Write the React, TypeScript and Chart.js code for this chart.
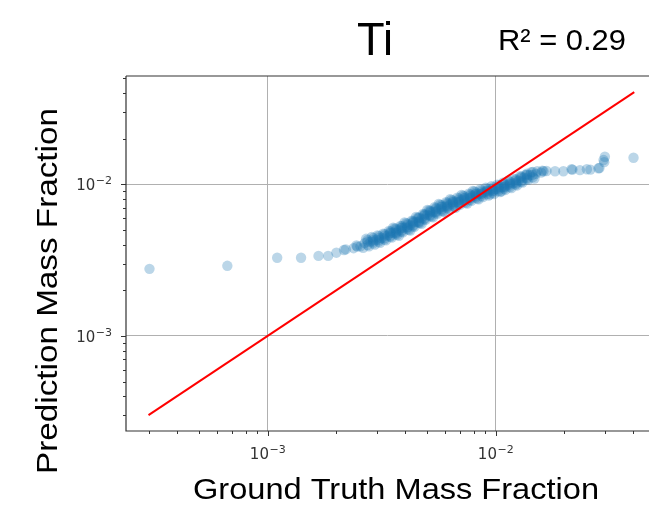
import React, { useEffect, useRef } from 'react';
import { Chart, registerables } from 'chart.js';

Chart.register(...registerables);

// Ground truth (x) and prediction (y) mass fractions
const groundTruth = [
  // sparse low tail
  3.03e-4, 6.65e-4, 1.10e-3, 1.40e-3, 1.67e-3, 1.84e-3, 2.0e-3, 2.16e-3, 2.2e-3, 2.38e-3, 2.45e-3, 2.47e-3, 2.55e-3,
  // dense band, lower edge
  2.62e-3, 2.78e-3, 2.95e-3, 3.11e-3, 3.30e-3, 3.50e-3, 3.70e-3, 3.92e-3, 4.16e-3, 4.40e-3, 4.66e-3, 4.93e-3, 5.23e-3, 5.54e-3, 5.87e-3, 6.22e-3,
  6.58e-3, 6.97e-3, 7.39e-3, 7.82e-3, 8.28e-3, 8.78e-3, 9.30e-3, 9.85e-3, 1.044e-2, 1.103e-2, 1.172e-2, 1.241e-2, 1.31e-2, 1.389e-2, 1.478e-2,
  // dense band, middle
  2.66e-3, 2.82e-3, 2.99e-3, 3.16e-3, 3.35e-3, 3.55e-3, 3.76e-3, 3.98e-3, 4.22e-3, 4.47e-3, 4.73e-3, 5.01e-3, 5.31e-3, 5.62e-3, 5.96e-3, 6.31e-3,
  6.68e-3, 7.08e-3, 7.50e-3, 7.94e-3, 8.41e-3, 8.91e-3, 9.44e-3, 1.0e-2, 1.06e-2, 1.12e-2, 1.19e-2, 1.26e-2, 1.33e-2, 1.41e-2, 1.50e-2, 1.58e-2,
  // dense band, upper edge
  2.70e-3, 2.86e-3, 3.03e-3, 3.21e-3, 3.40e-3, 3.60e-3, 3.82e-3, 4.04e-3, 4.28e-3, 4.54e-3, 4.80e-3, 5.09e-3, 5.39e-3, 5.70e-3, 6.05e-3, 6.40e-3,
  6.78e-3, 7.19e-3, 7.61e-3, 8.06e-3, 8.54e-3, 9.04e-3, 9.58e-3, 1.015e-2, 1.076e-2, 1.137e-2, 1.208e-2, 1.279e-2, 1.35e-2, 1.431e-2, 1.52e-2, 1.60e-2,
  // dense band, in between
  3.45e-3, 3.65e-3, 3.87e-3, 4.10e-3, 4.34e-3, 4.60e-3, 4.87e-3, 5.16e-3, 5.46e-3, 5.79e-3, 6.13e-3, 6.49e-3, 6.88e-3, 7.29e-3, 7.72e-3, 8.17e-3,
  8.66e-3, 9.17e-3, 9.72e-3, 1.03e-2, 1.09e-2, 1.155e-2, 1.225e-2,
  // dense band, centre right of row
  2.90e-3, 3.08e-3, 3.25e-3, 3.45e-3, 3.66e-3, 3.87e-3, 4.10e-3, 4.35e-3, 4.60e-3, 4.87e-3, 5.16e-3, 5.47e-3, 5.79e-3, 6.14e-3, 6.50e-3,
  6.88e-3, 7.29e-3, 7.73e-3, 8.18e-3, 8.66e-3, 9.18e-3, 9.72e-3, 1.03e-2, 1.09e-2, 1.15e-2, 1.23e-2, 1.30e-2, 1.37e-2, 1.45e-2,
  // dense band, centre left of row
  2.74e-3, 2.90e-3, 3.07e-3, 3.25e-3, 3.44e-3, 3.65e-3, 3.86e-3, 4.09e-3, 4.34e-3, 4.59e-3, 4.86e-3, 5.15e-3, 5.45e-3, 5.78e-3, 6.12e-3,
  6.48e-3, 6.87e-3, 7.28e-3, 7.70e-3, 8.16e-3, 8.64e-3, 9.16e-3, 9.70e-3, 1.03e-2, 1.09e-2, 1.15e-2, 1.22e-2, 1.29e-2, 1.37e-2,
  // dense band, half rows high
  2.74e-3, 2.90e-3, 3.07e-3, 3.25e-3, 3.45e-3, 3.65e-3, 3.87e-3, 4.10e-3, 4.34e-3, 4.60e-3, 4.87e-3, 5.16e-3, 5.46e-3, 5.79e-3, 6.13e-3,
  6.49e-3, 6.88e-3, 7.29e-3, 7.72e-3, 8.17e-3, 8.66e-3, 9.17e-3, 9.72e-3, 1.03e-2, 1.09e-2, 1.155e-2, 1.225e-2, 1.295e-2, 1.37e-2, 1.455e-2,
  // dense band, half rows low
  2.74e-3, 2.90e-3, 3.07e-3, 3.25e-3, 3.45e-3, 3.65e-3, 3.87e-3, 4.10e-3, 4.34e-3, 4.60e-3, 4.87e-3, 5.16e-3, 5.46e-3, 5.79e-3, 6.13e-3,
  6.49e-3, 6.88e-3, 7.29e-3, 7.72e-3, 8.17e-3, 8.66e-3, 9.17e-3, 9.72e-3, 1.03e-2, 1.09e-2, 1.155e-2, 1.225e-2, 1.295e-2, 1.37e-2, 1.455e-2,
  // ragged outer edges
  3.55e-3, 3.98e-3, 4.47e-3, 5.01e-3, 5.62e-3, 6.31e-3, 7.08e-3, 7.94e-3,
  3.76e-3, 4.22e-3, 4.73e-3, 5.31e-3, 5.96e-3, 6.68e-3, 7.50e-3, 8.41e-3, 9.44e-3, 1.06e-2,
  // sparse high tail
  1.62e-2, 1.67e-2, 1.82e-2, 1.98e-2, 2.15e-2, 2.17e-2, 2.34e-2, 2.51e-2, 2.6e-2, 2.82e-2, 2.85e-2, 2.97e-2, 2.99e-2, 3.01e-2, 4.02e-2,
];

const prediction = [
  // sparse low tail
  2.77e-3, 2.90e-3, 3.28e-3, 3.28e-3, 3.37e-3, 3.37e-3, 3.54e-3, 3.69e-3, 3.72e-3, 3.79e-3, 3.95e-3, 3.88e-3, 3.9e-3,
  // dense band, lower edge
  3.81e-3, 3.90e-3, 4.00e-3, 4.11e-3, 4.27e-3, 4.45e-3, 4.64e-3, 4.82e-3, 5.01e-3, 5.25e-3, 5.54e-3, 5.84e-3, 6.13e-3, 6.38e-3, 6.63e-3, 6.87e-3,
  7.09e-3, 7.32e-3, 7.55e-3, 7.78e-3, 8.05e-3, 8.25e-3, 8.44e-3, 8.64e-3, 8.90e-3, 9.18e-3, 9.43e-3, 9.83e-3, 1.027e-2, 1.07e-2, 1.091e-2,
  // dense band, middle
  4.09e-3, 4.19e-3, 4.30e-3, 4.42e-3, 4.59e-3, 4.79e-3, 4.98e-3, 5.18e-3, 5.38e-3, 5.64e-3, 5.96e-3, 6.28e-3, 6.59e-3, 6.86e-3, 7.13e-3, 7.38e-3,
  7.62e-3, 7.87e-3, 8.11e-3, 8.37e-3, 8.65e-3, 8.87e-3, 9.08e-3, 9.29e-3, 9.57e-3, 9.86e-3, 1.014e-2, 1.057e-2, 1.104e-2, 1.151e-2, 1.172e-2, 1.194e-2,
  // dense band, upper edge
  4.37e-3, 4.49e-3, 4.60e-3, 4.73e-3, 4.92e-3, 5.12e-3, 5.32e-3, 5.54e-3, 5.75e-3, 6.03e-3, 6.38e-3, 6.72e-3, 7.06e-3, 7.34e-3, 7.63e-3, 7.90e-3,
  8.15e-3, 8.42e-3, 8.67e-3, 8.96e-3, 9.26e-3, 9.49e-3, 9.72e-3, 9.94e-3, 1.024e-2, 1.055e-2, 1.085e-2, 1.132e-2, 1.154e-2, 1.20e-2, 1.22e-2, 1.23e-2,
  // dense band, in between
  4.75e-3, 4.82e-3, 5.15e-3, 5.22e-3, 5.58e-3, 5.72e-3, 6.20e-3, 6.50e-3, 6.62e-3, 7.10e-3, 7.18e-3, 7.62e-3, 7.66e-3, 8.10e-3, 8.15e-3, 8.62e-3,
  8.68e-3, 9.10e-3, 9.05e-3, 9.55e-3, 9.62e-3, 1.01e-2, 1.03e-2,
  // dense band, centre right of row
  4.19e-3, 4.30e-3, 4.42e-3, 4.59e-3, 4.79e-3, 4.98e-3, 5.18e-3, 5.38e-3, 5.64e-3, 5.96e-3, 6.28e-3, 6.59e-3, 6.86e-3, 7.13e-3, 7.38e-3,
  7.62e-3, 7.87e-3, 8.11e-3, 8.37e-3, 8.65e-3, 8.87e-3, 9.08e-3, 9.29e-3, 9.57e-3, 9.86e-3, 1.014e-2, 1.057e-2, 1.104e-2, 1.151e-2,
  // dense band, centre left of row
  4.19e-3, 4.30e-3, 4.42e-3, 4.59e-3, 4.79e-3, 4.98e-3, 5.18e-3, 5.38e-3, 5.64e-3, 5.96e-3, 6.28e-3, 6.59e-3, 6.86e-3, 7.13e-3, 7.38e-3,
  7.62e-3, 7.87e-3, 8.11e-3, 8.37e-3, 8.65e-3, 8.87e-3, 9.08e-3, 9.29e-3, 9.57e-3, 9.86e-3, 1.014e-2, 1.057e-2, 1.104e-2, 1.151e-2,
  // dense band, half rows high
  4.30e-3, 4.42e-3, 4.54e-3, 4.69e-3, 4.88e-3, 5.09e-3, 5.29e-3, 5.49e-3, 5.73e-3, 6.04e-3, 6.36e-3, 6.70e-3, 6.99e-3, 7.28e-3, 7.55e-3,
  7.81e-3, 8.06e-3, 8.31e-3, 8.58e-3, 8.85e-3, 9.11e-3, 9.34e-3, 9.55e-3, 9.82e-3, 1.011e-2, 1.040e-2, 1.078e-2, 1.124e-2, 1.173e-2, 1.207e-2,
  // dense band, half rows low
  3.98e-3, 4.08e-3, 4.19e-3, 4.32e-3, 4.50e-3, 4.69e-3, 4.88e-3, 5.07e-3, 5.29e-3, 5.58e-3, 5.88e-3, 6.18e-3, 6.46e-3, 6.72e-3, 6.96e-3,
  7.20e-3, 7.44e-3, 7.67e-3, 7.91e-3, 8.18e-3, 8.41e-3, 8.62e-3, 8.83e-3, 9.05e-3, 9.33e-3, 9.60e-3, 9.95e-3, 1.037e-2, 1.084e-2, 1.114e-2,
  // ragged outer edges
  5.17e-3, 5.6e-3, 6.09e-3, 6.78e-3, 7.41e-3, 7.97e-3, 8.5e-3, 9.04e-3,
  4.58e-3, 4.95e-3, 5.48e-3, 6.06e-3, 6.56e-3, 7.01e-3, 7.46e-3, 7.96e-3, 8.6e-3, 9.0e-3,
  // sparse high tail
  1.22e-2, 1.224e-2, 1.22e-2, 1.22e-2, 1.256e-2, 1.25e-2, 1.24e-2, 1.256e-2, 1.25e-2, 1.275e-2, 1.28e-2, 1.445e-2, 1.4e-2, 1.52e-2, 1.496e-2,
];

// Identity line (y = x) end points
const identityLine = [3.0e-4, 4.05e-2];

// Axis ranges and labelled decades
const xRange = [2.39e-4, 4.7e-2];
const yRange = [2.36e-4, 5.18e-2];
const majorTicks = [1e-3, 1e-2];
const majorExponents = ['\u22123', '\u22122'];

const titleText = 'Ti';
const scoreText = 'R\u00B2 = 0.29';
const xTitle = 'Ground Truth Mass Fraction';
const yTitle = 'Prediction Mass Fraction';

const SANS = '"Liberation Sans", Arial, sans-serif';
const TICK_FONT = '"DejaVu Sans", sans-serif';

function isMajor(v: number) {
  const l = Math.log10(v);
  return Math.abs(l - Math.round(l)) < 1e-6;
}

function fitText(ctx: CanvasRenderingContext2D, text: string, x: number, y: number, width: number, font: string, rotate = 0) {
  ctx.save();
  ctx.font = font;
  ctx.textAlign = 'left';
  ctx.textBaseline = 'alphabetic';
  const w = ctx.measureText(text).width;
  ctx.translate(x, y);
  if (rotate) ctx.rotate(rotate);
  ctx.scale(width / w, 1);
  ctx.fillStyle = '#000';
  ctx.fillText(text, 0, 0);
  ctx.restore();
}

function drawPow(ctx: CanvasRenderingContext2D, exp: string, x: number, y: number, align: 'center' | 'right') {
  ctx.save();
  ctx.fillStyle = '#333';
  ctx.textBaseline = 'alphabetic';
  ctx.textAlign = 'left';
  ctx.font = `15px ${TICK_FONT}`;
  const wb = ctx.measureText('10').width;
  ctx.font = `11px ${TICK_FONT}`;
  const we = ctx.measureText(exp).width;
  const total = wb + we + 0.5;
  const x0 = align === 'center' ? x - total / 2 : x - total;
  ctx.font = `15px ${TICK_FONT}`;
  ctx.fillText('10', x0, y);
  ctx.font = `11px ${TICK_FONT}`;
  ctx.fillText(exp, x0 + wb + 0.5, y - 6);
  ctx.restore();
}

const decor = {
  id: 'decor',
  afterDatasetsDraw(chart: any) {
    const ctx: CanvasRenderingContext2D = chart.ctx;
    const { left, right, top, bottom } = chart.chartArea;
    const xs = chart.scales.x;
    const ys = chart.scales.y;
    ctx.save();
    // spines
    ctx.strokeStyle = '#333';
    ctx.lineWidth = 1.2;
    ctx.beginPath();
    ctx.moveTo(left, top);
    ctx.lineTo(right, top);
    ctx.moveTo(left, top);
    ctx.lineTo(left, bottom);
    ctx.lineTo(right, bottom);
    ctx.stroke();
    // tick marks
    ctx.lineWidth = 1;
    ctx.beginPath();
    for (let d = -5; d <= 0; d++) {
      for (let m = 1; m <= 9; m++) {
        const v = m * Math.pow(10, d);
        const len = m === 1 ? 5 : 3;
        if (v >= xs.min && v <= xs.max) {
          const px = Math.round(xs.getPixelForValue(v)) + 0.5;
          ctx.moveTo(px, bottom);
          ctx.lineTo(px, bottom + len);
        }
        if (v >= ys.min && v <= ys.max) {
          const py = Math.round(ys.getPixelForValue(v)) + 0.5;
          ctx.moveTo(left, py);
          ctx.lineTo(left - len, py);
        }
      }
    }
    ctx.stroke();
    // tick labels
    majorTicks.forEach((v, i) => {
      drawPow(ctx, majorExponents[i], xs.getPixelForValue(v), bottom + 28, 'center');
      drawPow(ctx, majorExponents[i], left - 14, ys.getPixelForValue(v) + 6, 'right');
    });
    // titles
    fitText(ctx, titleText, 357, 55, 36, `46px ${SANS}`);
    fitText(ctx, scoreText, 498, 50, 128, `30px ${SANS}`);
    fitText(ctx, xTitle, 193, 499, 406, `30px ${SANS}`);
    fitText(ctx, yTitle, 57, 474, 366, `30px ${SANS}`, -Math.PI / 2);
    ctx.restore();
  },
};

export default function App() {
  const ref = useRef<HTMLCanvasElement>(null);
  useEffect(() => {
    document.body.style.margin = '0';
    document.body.style.overflow = 'hidden';
    const canvas = ref.current!;
    const points = groundTruth.map((x, i) => ({ x, y: prediction[i] }));
    const line = identityLine.map((v) => ({ x: v, y: v }));
    const gridColor = (c: any) => (c.tick && isMajor(c.tick.value) ? '#b0b0b0' : 'rgba(0,0,0,0)');
    const chart = new Chart(canvas, {
      type: 'scatter',
      data: {
        datasets: [
          {
            type: 'line',
            data: line,
            borderColor: '#ff0000',
            borderWidth: 2,
            pointRadius: 0,
            fill: false,
            order: 0,
          } as any,
          {
            data: points,
            pointBackgroundColor: 'rgba(31,119,180,0.3)',
            backgroundColor: 'rgba(31,119,180,0.3)',
            pointBorderWidth: 0,
            borderWidth: 0,
            pointRadius: 5.2,
            pointHoverRadius: 5.2,
            order: 1,
          },
        ],
      },
      options: {
        animation: false,
        responsive: false,
        devicePixelRatio: 1,
        events: [],
        layout: { autoPadding: false, padding: { left: 126, top: 76, right: 0, bottom: 74 } },
        plugins: { legend: { display: false }, tooltip: { enabled: false }, title: { display: false } },
        scales: {
          x: {
            type: 'logarithmic',
            min: xRange[0],
            max: xRange[1],
            ticks: { display: false },
            border: { display: false },
            grid: { color: gridColor, lineWidth: 1, drawTicks: false },
            afterFit: (s: any) => { s.height = 0; },
          },
          y: {
            type: 'logarithmic',
            min: yRange[0],
            max: yRange[1],
            ticks: { display: false },
            border: { display: false },
            grid: { color: gridColor, lineWidth: 1, drawTicks: false },
            afterFit: (s: any) => { s.width = 0; },
          },
        },
      } as any,
      plugins: [decor],
    });
    return () => chart.destroy();
  }, []);
  return (
    <div style={{ position: 'fixed', left: 0, top: 0, width: 649, height: 505, background: '#fff' }}>
      <canvas ref={ref} width={649} height={505} style={{ display: 'block' }} />
    </div>
  );
}
